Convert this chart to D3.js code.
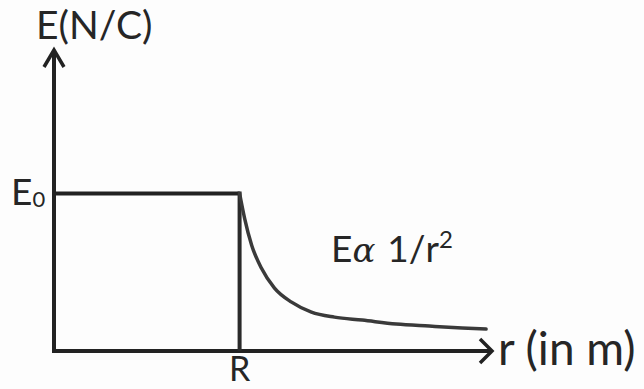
<!DOCTYPE html>
<html>
<head>
<meta charset="utf-8">
<script src="https://cdn.jsdelivr.net/npm/d3@7/dist/d3.min.js"></script>
<style>
  html, body { margin: 0; padding: 0; background: #fdfdfd; }
  svg { display: block; }
  text { font-family: Lato, "Open Sans", sans-serif; fill: #262626; }
</style>
</head>
<body>
<svg id="chart" width="644" height="389"></svg>
<script>
// Field of a charged sphere: constant E0 inside (r <= R), falling off as 1/r^2 outside.
const R = 1;          // radius of the sphere
const E0 = 1;         // field inside
const rMax = 2.36;    // end of the r axis
const eMax = 1.91;    // end of the E axis

// Inside region (flat) and outside region (decay)
const insideR = [0, 1];
const insideE = [1, 1];
const outsideR = [1.000, 1.027, 1.065, 1.118, 1.188, 1.280, 1.387, 1.511, 1.661, 1.844, 2.022, 2.199, 2.328];
const outsideE = [1.000, 0.842, 0.671, 0.525, 0.399, 0.310, 0.247, 0.215, 0.196, 0.171, 0.158, 0.146, 0.139];

const xTicks = [{ value: R, label: "R" }];
const yTicks = [{ value: E0, label: "E", sub: "0" }];

const svg = d3.select("#chart");
const x = d3.scaleLinear().domain([0, rMax]).range([54, 492]);
const y = d3.scaleLinear().domain([0, eMax]).range([351, 50]);

const ink = "#222";

// axes
svg.append("line")
  .attr("x1", x(0) - 2).attr("x2", x(rMax)).attr("y1", y(0)).attr("y2", y(0))
  .attr("stroke", ink).attr("stroke-width", 4);
svg.append("line")
  .attr("x1", x(0)).attr("x2", x(0)).attr("y1", y(0) + 2).attr("y2", y(eMax))
  .attr("stroke", ink).attr("stroke-width", 4);

// arrow heads (open chevrons)
svg.append("path")
  .attr("d", `M${x(rMax) - 12},${y(0) - 12} L${x(rMax)},${y(0)} L${x(rMax) - 12},${y(0) + 12}`)
  .attr("fill", "none").attr("stroke", ink).attr("stroke-width", 3.5)
  .attr("stroke-linejoin", "miter");
svg.append("path")
  .attr("d", `M${x(0) - 10},${y(eMax) + 17} L${x(0)},${y(eMax)} L${x(0) + 10},${y(eMax) + 17}`)
  .attr("fill", "none").attr("stroke", ink).attr("stroke-width", 3.5)
  .attr("stroke-linejoin", "miter");

// inside: constant field, then drop line at r = R
const line = d3.line().x(d => x(d[0])).y(d => y(d[1]));
svg.append("path")
  .attr("d", line(d3.zip(insideR, insideE)))
  .attr("fill", "none").attr("stroke", ink).attr("stroke-width", 4);
svg.append("line")
  .attr("x1", x(R)).attr("x2", x(R)).attr("y1", y(E0) - 2).attr("y2", y(0))
  .attr("stroke", "#2a2a2a").attr("stroke-width", 4);

// outside: 1/r^2 decay
const curve = d3.line().x(d => x(d[0])).y(d => y(d[1])).curve(d3.curveMonotoneX);
svg.append("path")
  .attr("d", curve(d3.zip(outsideR, outsideE)))
  .attr("fill", "none").attr("stroke", "#3a3a3a").attr("stroke-width", 3.5)
  .attr("stroke-linecap", "round");

// tick labels
xTicks.forEach(t => {
  svg.append("text")
    .attr("x", x(t.value)).attr("y", 381)
    .attr("text-anchor", "middle").attr("font-size", 34)
    .text(t.label);
});
yTicks.forEach(t => {
  const lbl = svg.append("text")
    .attr("x", 11).attr("y", y(t.value) + 12)
    .attr("font-size", 37);
  lbl.append("tspan").text(t.label);
  lbl.append("tspan").attr("font-size", 22).attr("dy", 2).text(t.sub);
});

// axis titles
svg.append("text").attr("x", 36).attr("y", 39).attr("font-size", 39).text("E(N/C)");
svg.append("text").attr("x", 498).attr("y", 365).attr("font-size", 46).text("r (in m)");

// relation label
const rel = svg.append("text").attr("x", 331).attr("y", 262).attr("font-size", 37);
rel.append("tspan").text("E");
rel.append("tspan").attr("font-family", "'DejaVu Serif', serif").attr("font-style", "italic").attr("font-size", 34).text("α");
rel.append("tspan").attr("dx", 12).text("1/r");
rel.append("tspan").attr("font-size", 24).attr("dy", -14).text("2");
</script>
</body>
</html>
